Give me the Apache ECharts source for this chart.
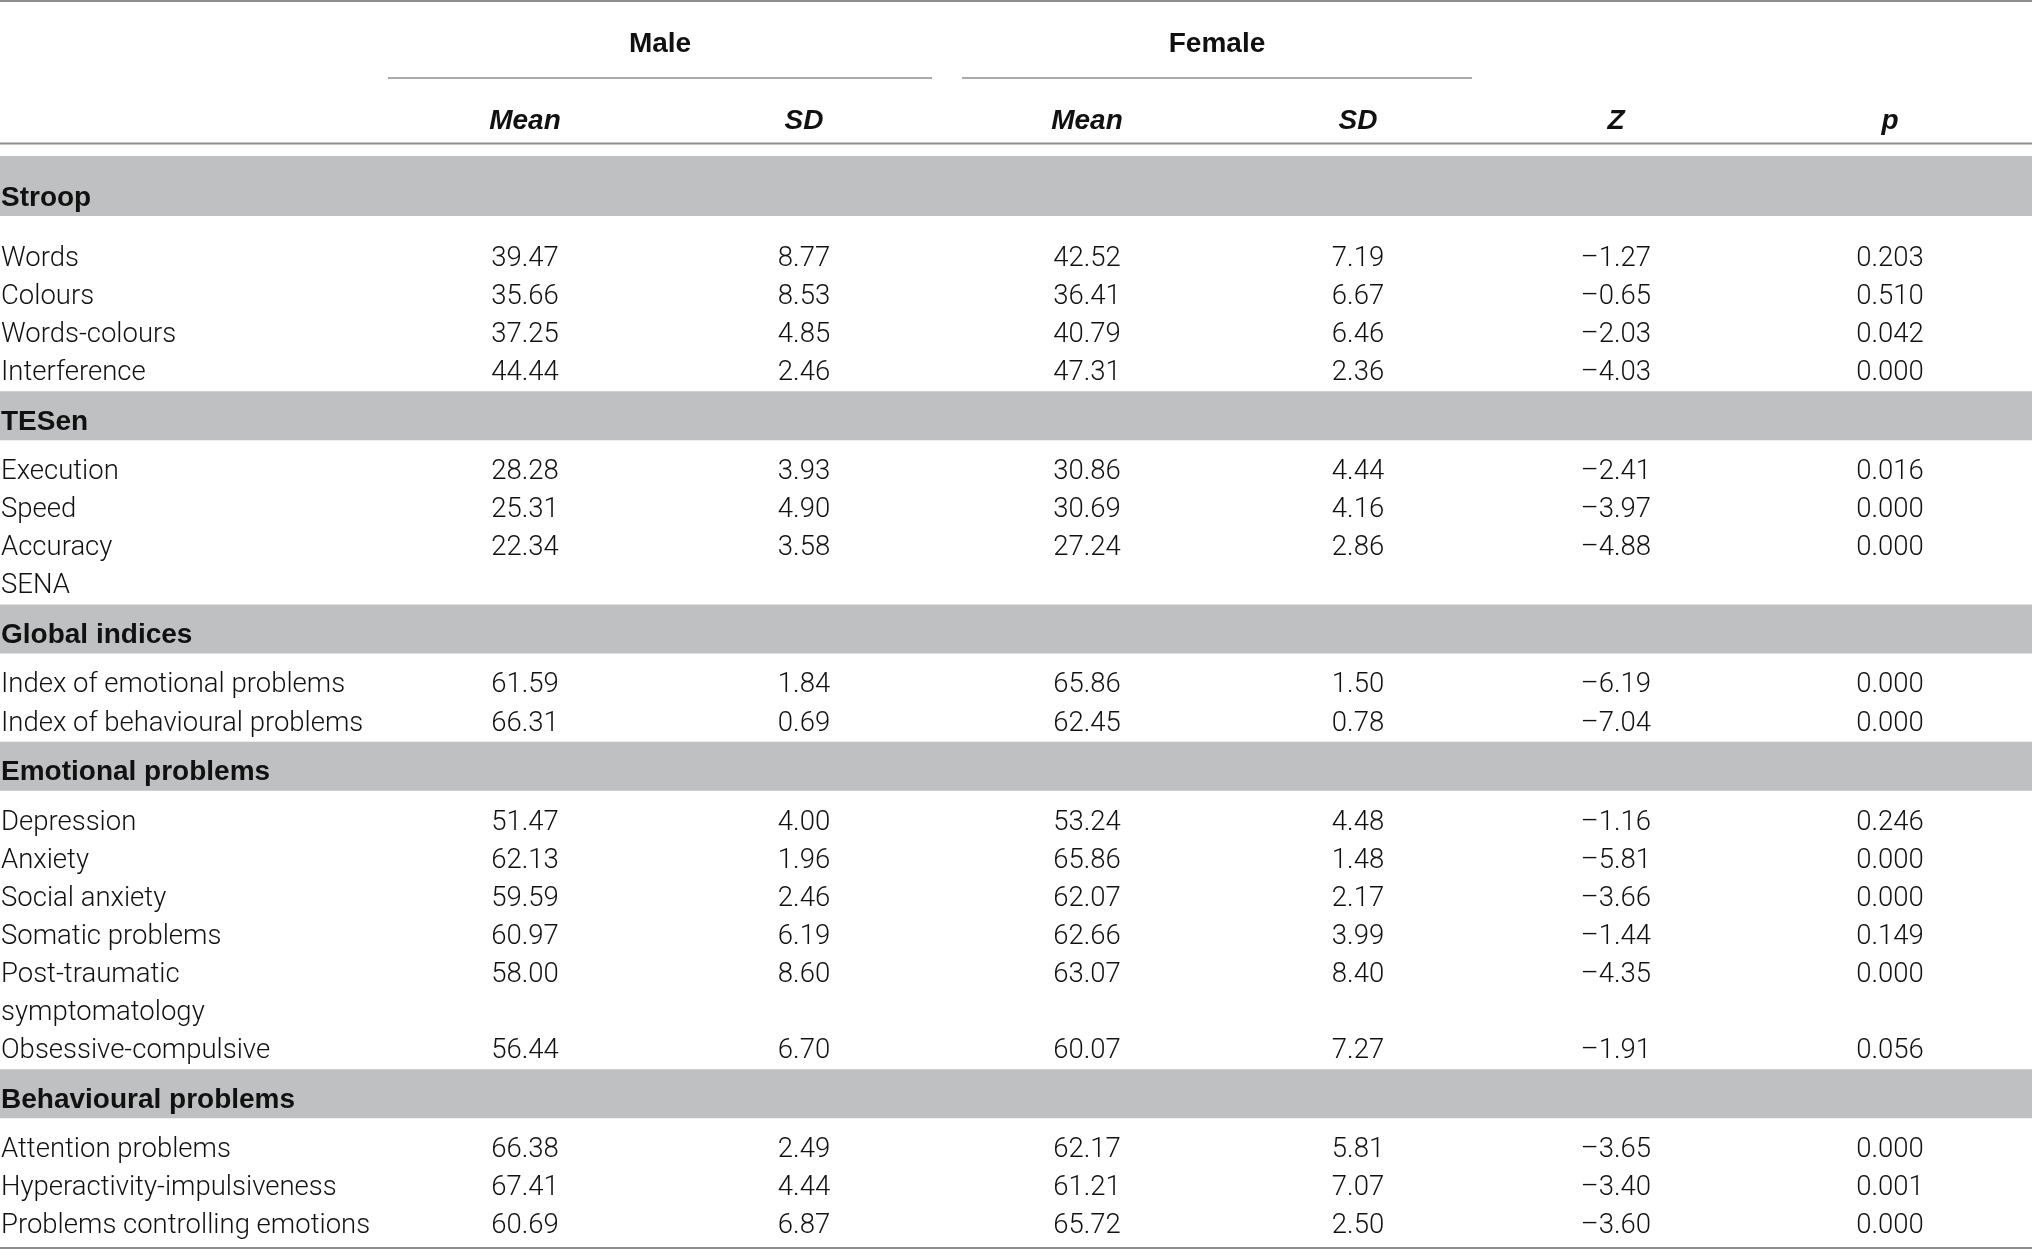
<!DOCTYPE html>
<html>
<head>
<meta charset="utf-8">
<script src="https://cdn.jsdelivr.net/npm/echarts@6/dist/echarts.min.js"></script>
<style>
  html, body { margin: 0; padding: 0; background: #fff; }
  #main { width: 2032px; height: 1250px; }
</style>
</head>
<body>
<div id="main"></div>
<script>
// table content
var groups = ['Male', 'Female'];
var subHeads = ['Mean', 'SD', 'Mean', 'SD', 'Z', 'p'];
var sections = ['Stroop', 'TESen', 'Global indices', 'Emotional problems', 'Behavioural problems'];

var rowLabels = ['Words', 'Colours', 'Words-colours', 'Interference',
  'Execution', 'Speed', 'Accuracy', 'SENA',
  'Index of emotional problems', 'Index of behavioural problems',
  'Depression', 'Anxiety', 'Social anxiety', 'Somatic problems',
  'Post-traumatic\nsymptomatology', 'Obsessive-compulsive',
  'Attention problems', 'Hyperactivity-impulsiveness', 'Problems controlling emotions'];
var rowSection = [0, 0, 0, 0, 1, 1, 1, 1, 2, 2, 3, 3, 3, 3, 3, 3, 4, 4, 4];

var maleMean = [39.47, 35.66, 37.25, 44.44, 28.28, 25.31, 22.34, null, 61.59, 66.31,
  51.47, 62.13, 59.59, 60.97, 58.00, 56.44, 66.38, 67.41, 60.69];
var maleSD = [8.77, 8.53, 4.85, 2.46, 3.93, 4.90, 3.58, null, 1.84, 0.69,
  4.00, 1.96, 2.46, 6.19, 8.60, 6.70, 2.49, 4.44, 6.87];
var femaleMean = [42.52, 36.41, 40.79, 47.31, 30.86, 30.69, 27.24, null, 65.86, 62.45,
  53.24, 65.86, 62.07, 62.66, 63.07, 60.07, 62.17, 61.21, 65.72];
var femaleSD = [7.19, 6.67, 6.46, 2.36, 4.44, 4.16, 2.86, null, 1.50, 0.78,
  4.48, 1.48, 2.17, 3.99, 8.40, 7.27, 5.81, 7.07, 2.50];
var zValues = [-1.27, -0.65, -2.03, -4.03, -2.41, -3.97, -4.88, null, -6.19, -7.04,
  -1.16, -5.81, -3.66, -1.44, -4.35, -1.91, -3.65, -3.40, -3.60];
var pValues = [0.203, 0.510, 0.042, 0.000, 0.016, 0.000, 0.000, null, 0.000, 0.000,
  0.246, 0.000, 0.000, 0.149, 0.000, 0.056, 0.000, 0.001, 0.000];

// layout (table units = px of the 2032x1250 figure)
var W = 2032, H = 1250;
var colX = [1, 525, 804, 1087, 1358, 1616, 1890];
var groupSpan = [[388, 932], [962, 1472]];
var rowH = 38.1;
var textDy = 3;

function f2(v) { return v.toFixed(2); }
function fz(v) { return (v < 0 ? '\u2013' : '') + Math.abs(v).toFixed(2); }
function f3(v) { return v.toFixed(3); }

var cells = [], bands = [], rules = [];

// header
rules.push({ x1: 0, x2: W, y: 1, w: 2 });
groups.forEach(function (g, i) {
  var s = groupSpan[i];
  cells.push({ x: (s[0] + s[1]) / 2, y: 41, text: g, kind: 'group' });
  rules.push({ x1: s[0], x2: s[1], y: 78, w: 1.5 });
});
subHeads.forEach(function (t, i) {
  cells.push({ x: colX[i + 1], y: 118, text: t, kind: 'sub' });
});
var headRule = 143.5;
rules.push({ x1: 0, x2: W, y: headRule, w: 2 });

// body
var cols = [[maleMean, f2], [maleSD, f2], [femaleMean, f2], [femaleSD, f2], [zValues, fz], [pValues, f3]];
var cur = -1, lastRow = null, y = 0;
rowLabels.forEach(function (label, i) {
  if (rowSection[i] !== cur) {
    cur = rowSection[i];
    var top, txt, bot;
    if (lastRow === null) {
      top = headRule + 12.5; txt = top + 39; bot = top + 60; y = bot + 40;
    } else {
      top = lastRow + 21; txt = lastRow + 49; bot = lastRow + 70; y = lastRow + 99;
    }
    bands.push({ top: top, bottom: bot });
    cells.push({ x: colX[0], y: txt, text: sections[cur], kind: 'section' });
  }
  var lines = label.split('\n');
  lines.forEach(function (ln, k) {
    cells.push({ x: colX[0], y: y + k * rowH, text: ln, kind: 'label' });
  });
  cols.forEach(function (c, j) {
    var v = c[0][i];
    if (v !== null) cells.push({ x: colX[j + 1], y: y, text: c[1](v), kind: 'num' });
  });
  lastRow = y + (lines.length - 1) * rowH;
  y = lastRow + rowH;
});
rules.push({ x1: 0, x2: W, y: 1248, w: 2 });

var fonts = {
  group: { font: 'bold 28px "Liberation Sans"', align: 'center' },
  sub: { font: 'italic bold 28px "Liberation Sans"', align: 'center' },
  section: { font: 'bold 28px "Liberation Sans"', align: 'left' },
  label: { font: '300 27.5px Roboto', align: 'left' },
  num: { font: '300 27.5px Roboto', align: 'center' }
};

var chart = echarts.init(document.getElementById('main'));
chart.setOption({
  animation: false,
  backgroundColor: '#fff',
  grid: { left: 0, right: 0, top: 0, bottom: 0 },
  xAxis: { type: 'value', min: 0, max: W, show: false },
  yAxis: { type: 'value', min: 0, max: H, inverse: true, show: false },
  series: [
    {
      type: 'custom',
      name: 'bands',
      clip: false,
      data: bands.map(function (b) { return [0, b.top]; }),
      renderItem: function (params, api) {
        var b = bands[params.dataIndex];
        var p1 = api.coord([0, b.top]), p2 = api.coord([W, b.bottom]);
        return { type: 'rect', shape: { x: p1[0], y: p1[1], width: p2[0] - p1[0], height: p2[1] - p1[1] },
          style: { fill: '#bfc0c2' } };
      }
    },
    {
      type: 'custom',
      name: 'rules',
      clip: false,
      data: rules.map(function (r) { return [r.x1, r.y]; }),
      renderItem: function (params, api) {
        var r = rules[params.dataIndex];
        var p1 = api.coord([r.x1, r.y]), p2 = api.coord([r.x2, r.y]);
        return { type: 'line', shape: { x1: p1[0], y1: p1[1], x2: p2[0], y2: p2[1] },
          style: { stroke: '#8e8e8e', lineWidth: r.w } };
      }
    },
    {
      type: 'custom',
      name: 'cells',
      clip: false,
      data: cells.map(function (c) { return [c.x, c.y]; }),
      renderItem: function (params, api) {
        var c = cells[params.dataIndex];
        var p = api.coord([c.x, c.y + textDy]);
        var f = fonts[c.kind];
        return { type: 'text', x: p[0], y: p[1],
          style: { text: c.text, font: f.font, fill: '#111', align: f.align, verticalAlign: 'middle' } };
      }
    }
  ]
});
</script>
</body>
</html>
